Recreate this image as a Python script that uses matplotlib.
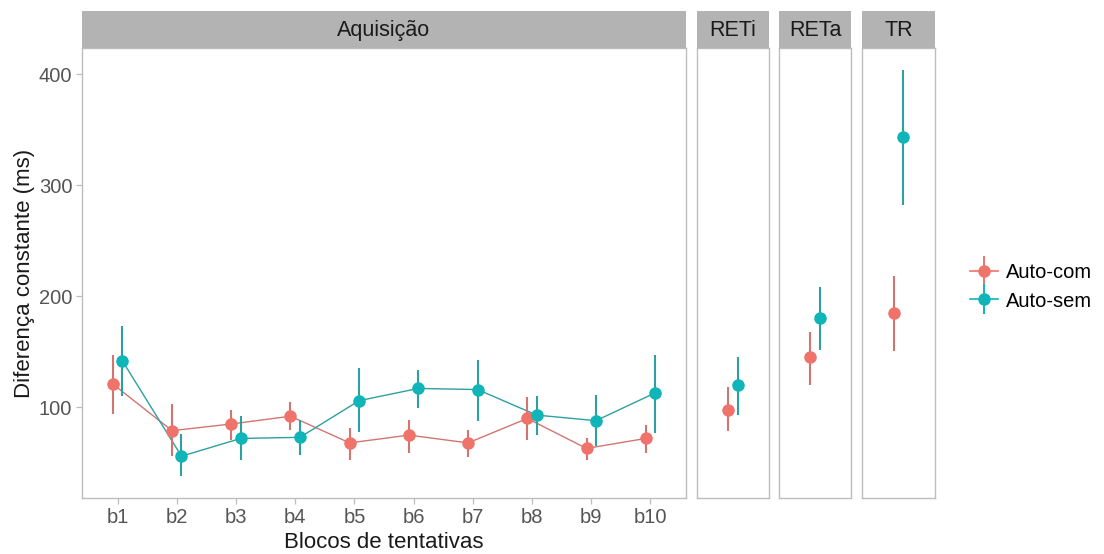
import numpy as np
import matplotlib.pyplot as plt
from matplotlib.lines import Line2D
from matplotlib.legend_handler import HandlerTuple

plt.rcParams['font.family'] = ['Liberation Sans', 'DejaVu Sans']

# Acquisition blocks
blocks = ['b1', 'b2', 'b3', 'b4', 'b5', 'b6', 'b7', 'b8', 'b9', 'b10']
com_acq = [121, 79, 85, 92, 68, 75, 68, 90, 63, 72]
com_acq_lo = [94, 56, 71, 80, 53, 59, 55, 71, 53, 59]
com_acq_hi = [147, 103, 98, 105, 81, 89, 80, 109, 72, 84]
sem_acq = [142, 56, 72, 73, 106, 117, 116, 93, 88, 113]
sem_acq_lo = [110, 38, 53, 57, 78, 99, 88, 75, 65, 77]
sem_acq_hi = [173, 76, 92, 89, 135, 134, 143, 110, 111, 147]

# Retention / transfer tests
tests = ['RETi', 'RETa', 'TR']
com_test = [98, 145, 185]
com_test_lo = [79, 120, 151]
com_test_hi = [118, 168, 218]
sem_test = [120, 180, 343]
sem_test_lo = [93, 152, 282]
sem_test_hi = [145, 208, 404]

groups = ['Auto-com', 'Auto-sem']
colors = ['#F0736B', '#0FB5B8']
line_colors = ['#D27570', '#2E9FA2']
border = '#BDBDBD'
strip_fill = '#B3B3B3'
tick_col = '#555555'

W, H = 1104, 554
fig = plt.figure(figsize=(W / 100, H / 100), dpi=100)

top, bottom, strip_top = 48, 498, 11
panels = [(82, 686), (697, 769), (779, 851), (862, 935)]
ylim = (18.4, 423.4)
dodge = 0.08


def make_ax(x0, x1):
    ax = fig.add_axes([x0 / W, 1 - bottom / H, (x1 - x0) / W, (bottom - top) / H])
    ax.set_ylim(*ylim)
    for s in ax.spines.values():
        s.set_color(border)
        s.set_linewidth(1.0)
    ax.tick_params(colors=border, labelcolor=tick_col, labelsize=14.5, length=4, width=0.9, pad=3)
    # strip on top
    sax = fig.add_axes([x0 / W, 1 - top / H, (x1 - x0) / W, (top - strip_top) / H])
    sax.set_facecolor(strip_fill)
    sax.set_xticks([])
    sax.set_yticks([])
    for s in sax.spines.values():
        s.set_visible(False)
    return ax, sax


def pointrange(ax, x, y, lo, hi, i, connect):
    x = np.asarray(x, dtype=float)
    if connect:
        ax.plot(x, y, color=line_colors[i], lw=1.0, zorder=2)
    ax.vlines(x, lo, hi, color=line_colors[i], lw=1.5, zorder=3)
    ax.plot(x, y, 'o', color=colors[i], ms=8, mec=colors[i], zorder=4)


# Acquisition panel
ax, sax = make_ax(*panels[0])
sax.text(0.5, 0.47, 'Aquisição', ha='center', va='center', fontsize=15.5, color='#1A1A1A')
xs = np.arange(len(blocks))
ax.set_xlim(-0.6, len(blocks) - 0.4)
pointrange(ax, xs - dodge, com_acq, com_acq_lo, com_acq_hi, 0, True)
pointrange(ax, xs + dodge, sem_acq, sem_acq_lo, sem_acq_hi, 1, True)
ax.set_xticks(xs)
ax.set_xticklabels(blocks)
ax.set_yticks([100, 200, 300, 400])
ax.set_ylabel('Diferença constante (ms)', fontsize=16, color='#1A1A1A', labelpad=3)

# Test panels
for i, name in enumerate(tests):
    ax, sax = make_ax(*panels[i + 1])
    sax.text(0.5, 0.47, name, ha='center', va='center', fontsize=15.5, color='#1A1A1A')
    ax.set_xlim(-0.6, 0.6)
    pointrange(ax, [-dodge], [com_test[i]], [com_test_lo[i]], [com_test_hi[i]], 0, False)
    pointrange(ax, [dodge], [sem_test[i]], [sem_test_lo[i]], [sem_test_hi[i]], 1, False)
    ax.set_xticks([])
    ax.set_yticks([])

fig.text(((82 + 686) / 2) / W, 1 - 543 / H, 'Blocos de tentativas', ha='center', va='center',
         fontsize=16, color='#1A1A1A')

handles = []
for c in colors:
    handles.append((Line2D([], [], color=c, lw=1.2, marker='o', ms=8),
                    Line2D([], [], color=c, marker='|', ms=22, mew=1.4, linestyle='none')))
fig.legend(handles, groups, loc='center left', bbox_to_anchor=(970 / W, 1 - 287 / H),
           frameon=False, fontsize=14.5, handlelength=1.4, handletextpad=0.4, labelspacing=0.45,
           borderpad=0, borderaxespad=0,
           handler_map={tuple: HandlerTuple(ndivide=1)})

fig.savefig('out.png', dpi=100)
